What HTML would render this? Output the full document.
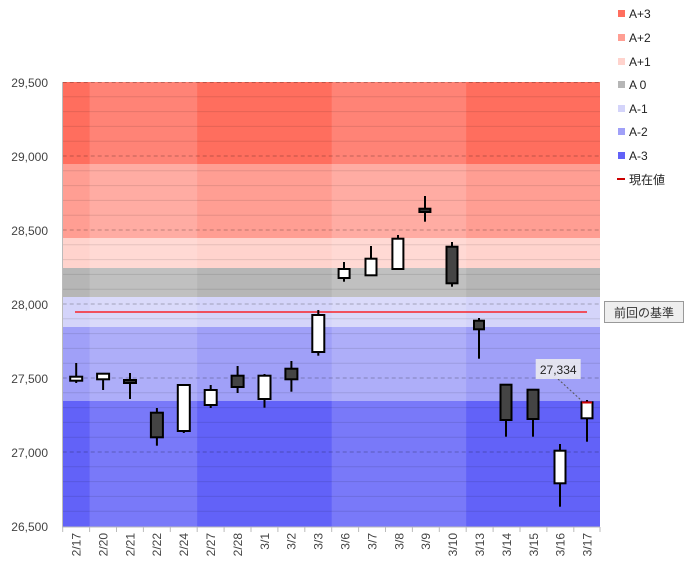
<!DOCTYPE html>
<html><head><meta charset="utf-8"><style>
html,body{margin:0;padding:0;background:#fff;}
svg{display:block;font-family:"Liberation Sans","Noto Sans CJK JP",sans-serif;}
</style></head><body>
<svg width="692" height="572" viewBox="0 0 692 572" xmlns="http://www.w3.org/2000/svg">
<!-- bands -->
<rect x="62.7" y="82" width="537.3" height="82" fill="#ff6e5e"/>
<rect x="62.7" y="164" width="537.3" height="74" fill="#ff9e93"/>
<rect x="62.7" y="238" width="537.3" height="30" fill="#ffd3cd"/>
<rect x="62.7" y="268" width="537.3" height="29" fill="#b6b6b6"/>
<rect x="62.7" y="297" width="537.3" height="30" fill="#d4d4fa"/>
<rect x="62.7" y="327" width="537.3" height="74" fill="#a0a0f8"/>
<rect x="62.7" y="401" width="537.3" height="126" fill="#6262f8"/>
<!-- lighter columns -->
<rect x="89.6" y="82" width="107.6" height="445" fill="#fff" opacity="0.15"/>
<rect x="331.7" y="82" width="134.5" height="445" fill="#fff" opacity="0.15"/>
<!-- minor gridlines -->
<g stroke="#000" stroke-opacity="0.1" stroke-width="1">
<line x1="62.7" x2="600" y1="96.8" y2="96.8"/><line x1="62.7" x2="600" y1="111.6" y2="111.6"/><line x1="62.7" x2="600" y1="126.4" y2="126.4"/><line x1="62.7" x2="600" y1="141.2" y2="141.2"/>
<line x1="62.7" x2="600" y1="170.8" y2="170.8"/><line x1="62.7" x2="600" y1="185.6" y2="185.6"/><line x1="62.7" x2="600" y1="200.4" y2="200.4"/><line x1="62.7" x2="600" y1="215.2" y2="215.2"/>
<line x1="62.7" x2="600" y1="244.8" y2="244.8"/><line x1="62.7" x2="600" y1="259.6" y2="259.6"/><line x1="62.7" x2="600" y1="274.4" y2="274.4"/><line x1="62.7" x2="600" y1="289.2" y2="289.2"/>
<line x1="62.7" x2="600" y1="318.8" y2="318.8"/><line x1="62.7" x2="600" y1="333.6" y2="333.6"/><line x1="62.7" x2="600" y1="348.4" y2="348.4"/><line x1="62.7" x2="600" y1="363.2" y2="363.2"/>
<line x1="62.7" x2="600" y1="392.8" y2="392.8"/><line x1="62.7" x2="600" y1="407.6" y2="407.6"/><line x1="62.7" x2="600" y1="422.4" y2="422.4"/><line x1="62.7" x2="600" y1="437.2" y2="437.2"/>
<line x1="62.7" x2="600" y1="466.8" y2="466.8"/><line x1="62.7" x2="600" y1="481.6" y2="481.6"/><line x1="62.7" x2="600" y1="496.4" y2="496.4"/><line x1="62.7" x2="600" y1="511.2" y2="511.2"/>
</g>
<g stroke="#000" stroke-opacity="0.25" stroke-dasharray="4,3">
<line x1="62.7" x2="600" y1="82.5" y2="82.5"/><line x1="62.7" x2="600" y1="156" y2="156"/><line x1="62.7" x2="600" y1="230" y2="230"/><line x1="62.7" x2="600" y1="304" y2="304"/><line x1="62.7" x2="600" y1="378" y2="378"/><line x1="62.7" x2="600" y1="452" y2="452"/>
</g>
<!-- axes -->
<line x1="62.5" y1="82" x2="62.5" y2="527" stroke="#bbb"/>
<line x1="62" y1="527" x2="600" y2="527" stroke="#bbb"/>
<g stroke="#bbb">
<line x1="62.7" x2="62.7" y1="527" y2="532"/><line x1="89.6" x2="89.6" y1="527" y2="532"/><line x1="116.5" x2="116.5" y1="527" y2="532"/><line x1="143.4" x2="143.4" y1="527" y2="532"/><line x1="170.3" x2="170.3" y1="527" y2="532"/><line x1="197.2" x2="197.2" y1="527" y2="532"/><line x1="224.1" x2="224.1" y1="527" y2="532"/><line x1="251" x2="251" y1="527" y2="532"/><line x1="277.9" x2="277.9" y1="527" y2="532"/><line x1="304.8" x2="304.8" y1="527" y2="532"/><line x1="331.7" x2="331.7" y1="527" y2="532"/><line x1="358.6" x2="358.6" y1="527" y2="532"/><line x1="385.5" x2="385.5" y1="527" y2="532"/><line x1="412.4" x2="412.4" y1="527" y2="532"/><line x1="439.3" x2="439.3" y1="527" y2="532"/><line x1="466.2" x2="466.2" y1="527" y2="532"/><line x1="493.1" x2="493.1" y1="527" y2="532"/><line x1="520" x2="520" y1="527" y2="532"/><line x1="546.9" x2="546.9" y1="527" y2="532"/><line x1="573.8" x2="573.8" y1="527" y2="532"/><line x1="600" x2="600" y1="527" y2="532"/>
</g>
<g font-size="12" fill="#444" text-anchor="end">
<text x="48" y="87">29,500</text><text x="48" y="161">29,000</text><text x="48" y="235">28,500</text><text x="48" y="309">28,000</text><text x="48" y="383">27,500</text><text x="48" y="457">27,000</text><text x="48" y="531">26,500</text>
</g>
<g font-size="12" fill="#444" text-anchor="end">
<text transform="translate(80.5,533) rotate(-90)">2/17</text>
<text transform="translate(107.4,533) rotate(-90)">2/20</text>
<text transform="translate(134.3,533) rotate(-90)">2/21</text>
<text transform="translate(161.2,533) rotate(-90)">2/22</text>
<text transform="translate(188.1,533) rotate(-90)">2/24</text>
<text transform="translate(215,533) rotate(-90)">2/27</text>
<text transform="translate(241.9,533) rotate(-90)">2/28</text>
<text transform="translate(268.8,533) rotate(-90)">3/1</text>
<text transform="translate(295.7,533) rotate(-90)">3/2</text>
<text transform="translate(322.6,533) rotate(-90)">3/3</text>
<text transform="translate(349.5,533) rotate(-90)">3/6</text>
<text transform="translate(376.4,533) rotate(-90)">3/7</text>
<text transform="translate(403.3,533) rotate(-90)">3/8</text>
<text transform="translate(430.2,533) rotate(-90)">3/9</text>
<text transform="translate(457.1,533) rotate(-90)">3/10</text>
<text transform="translate(484,533) rotate(-90)">3/13</text>
<text transform="translate(510.9,533) rotate(-90)">3/14</text>
<text transform="translate(537.8,533) rotate(-90)">3/15</text>
<text transform="translate(564.7,533) rotate(-90)">3/16</text>
<text transform="translate(591.6,533) rotate(-90)">3/17</text>
</g>
<!-- previous reference line -->
<line x1="75" y1="312" x2="587" y2="312" stroke="#f00" stroke-width="1.2"/>
<!-- candles -->
<g stroke="#000" stroke-width="2">
<line x1="76.2" x2="76.2" y1="363" y2="383"/><rect x="70.2" y="376.7" width="12" height="4" fill="#fff"/>
<line x1="103.1" x2="103.1" y1="374" y2="390"/><rect x="97.1" y="373.7" width="12" height="5.6" fill="#fff"/>
<line x1="130" x2="130" y1="373" y2="399"/><rect x="124" y="380" width="12" height="3" fill="#333"/>
<line x1="156.9" x2="156.9" y1="408" y2="445.7"/><rect x="150.9" y="412.7" width="12" height="24.6" fill="#444"/>
<line x1="183.8" x2="183.8" y1="384" y2="433"/><rect x="177.8" y="385" width="12" height="46" fill="#fff"/>
<line x1="210.7" x2="210.7" y1="385" y2="408"/><rect x="204.7" y="390" width="12" height="15" fill="#fff"/>
<line x1="237.6" x2="237.6" y1="366" y2="393"/><rect x="231.6" y="375.7" width="12" height="11.3" fill="#444"/>
<line x1="264.5" x2="264.5" y1="374" y2="407.7"/><rect x="258.5" y="375.7" width="12" height="23.3" fill="#fff"/>
<line x1="291.4" x2="291.4" y1="361" y2="391.7"/><rect x="285.4" y="368.7" width="12" height="10.6" fill="#444"/>
<line x1="318.3" x2="318.3" y1="310" y2="355.7"/><rect x="312.3" y="315" width="12" height="37" fill="#fff"/>
<line x1="344" x2="344" y1="262" y2="281.7"/><rect x="338.6" y="269" width="11" height="9" fill="#fff"/>
<line x1="371" x2="371" y1="246" y2="275"/><rect x="365.5" y="258.7" width="11" height="16.6" fill="#fff"/>
<line x1="398" x2="398" y1="235" y2="269"/><rect x="392.4" y="238.7" width="11" height="30.3" fill="#fff"/>
<line x1="425" x2="425" y1="196" y2="221.7"/><rect x="419.4" y="208.7" width="11" height="3.3" fill="#333"/>
<line x1="452" x2="452" y1="242" y2="286.7"/><rect x="446.5" y="246.7" width="11" height="36.6" fill="#444"/>
<line x1="479" x2="479" y1="318" y2="358.7"/><rect x="474" y="320.7" width="10" height="8.6" fill="#444"/>
<line x1="506" x2="506" y1="384.7" y2="436.7"/><rect x="500.5" y="384.7" width="11" height="35.3" fill="#444"/>
<line x1="533" x2="533" y1="389.7" y2="436.7"/><rect x="527.5" y="389.7" width="11" height="29.3" fill="#444"/>
<line x1="560" x2="560" y1="444" y2="506.7"/><rect x="554.5" y="450.7" width="11" height="32.6" fill="#fff"/>
<line x1="587" x2="587" y1="400" y2="441.7"/><rect x="581.5" y="402.3" width="11" height="16" fill="#fff"/>
</g>
<line x1="582" y1="402.5" x2="592" y2="402.5" stroke="#c00" stroke-width="2"/>
<!-- value label -->
<line x1="558" y1="379" x2="582" y2="401" stroke="#555" stroke-dasharray="2,2"/>
<rect x="535.7" y="359" width="45" height="20" fill="#eee" opacity="0.85"/>
<text x="558.2" y="374" font-size="12" fill="#222" text-anchor="middle">27,334</text>
<!-- 前回の基準 -->
<rect x="604.5" y="301.5" width="79" height="21" fill="#eee" stroke="#999"/>
<text x="644" y="317" font-size="12" fill="#333" text-anchor="middle">前回の基準</text>
<!-- legend -->
<g font-size="12" fill="#222">
<rect x="618" y="10" width="7" height="7" fill="#ff6e5e"/><text x="629" y="18">A+3</text>
<rect x="618" y="34" width="7" height="7" fill="#ff9e93"/><text x="629" y="42">A+2</text>
<rect x="618" y="58" width="7" height="7" fill="#ffd3cd"/><text x="629" y="66">A+1</text>
<rect x="618" y="81" width="7" height="7" fill="#b6b6b6"/><text x="629" y="89">A 0</text>
<rect x="618" y="105" width="7" height="7" fill="#d4d4fa"/><text x="629" y="113">A-1</text>
<rect x="618" y="128" width="7" height="7" fill="#a0a0f8"/><text x="629" y="136">A-2</text>
<rect x="618" y="152" width="7" height="7" fill="#6262f8"/><text x="629" y="160">A-3</text>
<rect x="617" y="178" width="8" height="2" fill="#c00"/><text x="629" y="184">現在値</text>
</g>
</svg>
</body></html>
